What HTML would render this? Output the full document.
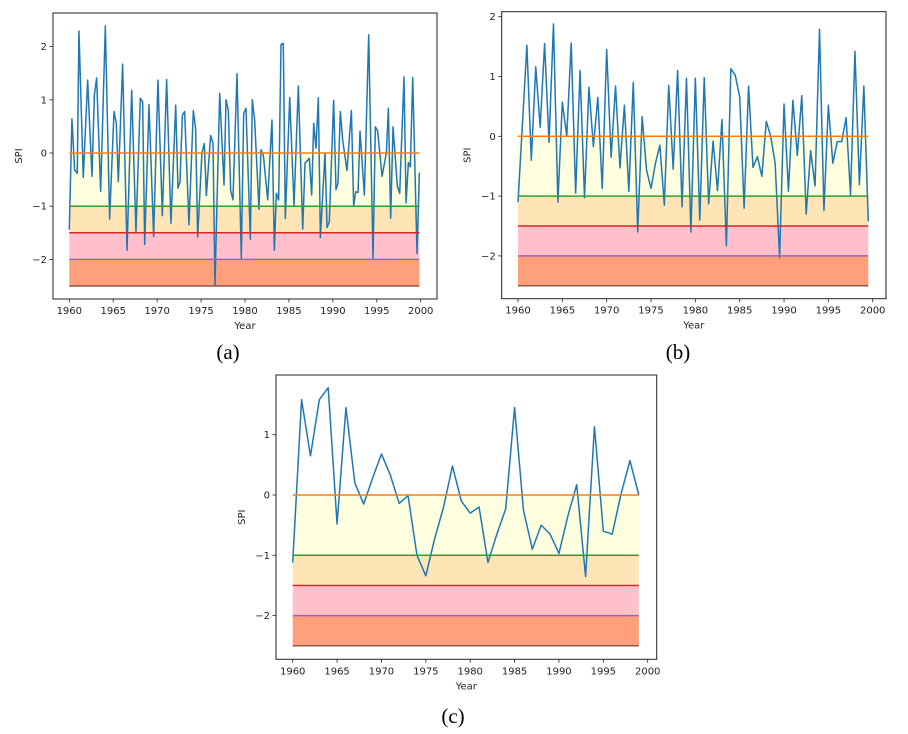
<!DOCTYPE html>
<html><head><meta charset="utf-8">
<style>
body{margin:0;background:#fff;}
svg{display:block;font-family:"DejaVu Sans","Liberation Sans",sans-serif;}
.cap{font-family:"Liberation Serif",serif;font-size:21px;}
</style></head>
<body>
<svg id="fig" width="908" height="734" viewBox="0 0 908 734" xmlns="http://www.w3.org/2000/svg">
<text class="cap" x="228" y="359" text-anchor="middle">(a)</text>
<text class="cap" x="678" y="359" text-anchor="middle">(b)</text>
<text class="cap" x="453" y="723" text-anchor="middle">(c)</text>
</svg>
<script>
// Panel (a) data
const aYears = [1960,1960.30,1960.61,1960.91,1961.10,1961.59,1962.09,1962.58,1962.85,1963.11,1963.57,1964.10,1964.59,1965.09,1965.35,1965.58,1966.07,1966.57,1967.10,1967.59,1968.08,1968.35,1968.58,1969.07,1969.60,1970.09,1970.59,1971.08,1971.57,1972.11,1972.37,1972.60,1972.87,1973.13,1973.62,1974.12,1974.38,1974.61,1975.10,1975.37,1975.60,1976.09,1976.36,1976.58,1977.12,1977.61,1977.84,1978.10,1978.37,1978.63,1979.09,1979.58,1979.85,1980.11,1980.61,1980.83,1981.10,1981.59,1981.82,1982.09,1982.58,1983.07,1983.34,1983.57,1983.83,1984.10,1984.36,1984.59,1985.09,1985.58,1986.07,1986.57,1986.83,1987.32,1987.59,1987.82,1988.08,1988.35,1988.58,1989.11,1989.34,1989.60,1990.09,1990.36,1990.59,1990.85,1991.12,1991.61,1992.11,1992.37,1992.60,1992.87,1993.09,1993.59,1994.08,1994.57,1994.84,1995.10,1995.60,1996.09,1996.32,1996.58,1996.85,1997.34,1997.61,1998.10,1998.33,1998.60,1998.82,1999.09,1999.58,1999.85];
const aValues = [-1.44,0.64,-0.32,-0.38,2.29,-0.46,1.37,-0.44,1.09,1.41,-0.72,2.39,-1.24,0.78,0.56,-0.54,1.67,-1.83,1.18,-1.48,1.03,0.96,-1.72,0.91,-1.57,1.37,-1.18,1.38,-1.32,0.90,-0.66,-0.54,0.71,0.78,-1.35,0.80,0.46,-1.58,0.00,0.18,-0.80,0.33,0.18,-2.48,1.12,-0.60,1.00,0.80,-0.71,-0.88,1.49,-1.98,0.74,0.84,-1.62,1.00,0.62,-1.06,0.06,-0.04,-0.88,0.62,-1.83,-0.76,-0.88,2.04,2.06,-1.23,1.04,-0.99,1.26,-1.43,-0.19,-0.10,-0.79,0.56,0.09,1.04,-1.59,0.00,-1.40,-1.29,0.99,-0.69,-0.56,0.78,0.24,-0.33,0.80,-1.00,-0.73,-0.74,0.41,-0.79,2.22,-1.98,0.49,0.42,-0.44,0.00,0.84,-1.23,0.49,-0.62,-0.76,1.43,-0.94,-0.18,-0.26,1.42,-1.89,-0.37];
// Panel (b) data (semi-annual)
const bStart = 1960, bStep = 0.5;
const bValues = [-1.10,0.20,1.52,-0.40,1.16,0.15,1.55,-0.10,1.88,-1.10,0.57,0.00,1.56,-0.95,1.10,-1.03,0.82,-0.17,0.65,-0.87,1.45,-0.35,0.84,-0.53,0.52,-0.92,0.90,-1.60,0.33,-0.57,-0.87,-0.45,-0.15,-1.15,0.85,-0.55,1.10,-1.18,0.97,-1.60,0.97,-1.40,0.98,-1.13,-0.08,-0.91,0.28,-1.83,1.13,1.02,0.66,-1.20,0.84,-0.52,-0.34,-0.67,0.25,0.00,-0.45,-2.03,0.54,-0.92,0.60,-0.32,0.68,-1.30,-0.24,-0.83,1.79,-1.24,0.52,-0.45,-0.09,-0.09,0.31,-0.98,1.42,-0.81,0.84,-1.42];
// Panel (c) data (annual)
const cStart = 1960, cStep = 1;
const cValues = [-1.12,1.58,0.65,1.58,1.78,-0.48,1.45,0.20,-0.15,0.28,0.68,0.33,-0.14,-0.01,-1.00,-1.34,-0.72,-0.20,0.48,-0.10,-0.30,-0.20,-1.12,-0.65,-0.23,1.45,-0.25,-0.90,-0.50,-0.65,-0.97,-0.35,0.17,-1.35,1.13,-0.60,-0.65,0.02,0.57,0.00];
const xTicks = [1960,1965,1970,1975,1980,1985,1990,1995,2000];
const yTicksA = [2,1,0,-1,-2];
const yTicksB = [2,1,0,-1,-2];
const yTicksC = [1,0,-1,-2];
const levels = [0,-1,-1.5,-2,-2.5];
const levelColors = ["#ff7f0e","#2ca02c","#d62728","#9467bd","#8c564b"];
const bandColors = ["#ffffe0","#ffe4b5","#ffc0cb","#ffa07a"];

const NS = "http://www.w3.org/2000/svg";
const fig = document.getElementById('fig');
function mk(tag, attrs, parent){const e=document.createElementNS(NS,tag);for(const k in attrs)e.setAttribute(k,attrs[k]);(parent||fig).appendChild(e);return e;}

function panel(id, g, xs, ys, yTicks){
  const grp = mk('g',{});
  
  
  const X = v => g.x1960 + (v-1960)*(g.x2000-g.x1960)/40;
  const Y = v => g.y0 - v*g.unit;
  const xmin = X(xs[0]), xmax = X(xs[xs.length-1]);
  for(let i=0;i<bandColors.length;i++){
    const r = mk('rect',{x:xmin,y:Y(levels[i]),width:xmax-xmin,height:Y(levels[i+1])-Y(levels[i]),fill:bandColors[i]},grp);
    
    
  }
  let d='';
  for(let i=0;i<xs.length;i++) d += (i?'L':'M')+X(xs[i]).toFixed(2)+' '+Y(ys[i]).toFixed(2);
  const p = mk('path',{d:d,fill:'none',stroke:'#1f77b4','stroke-width':1.5,'stroke-linejoin':'round'},grp);
  
  
  for(let i=0;i<levels.length;i++){
    const l = mk('line',{x1:xmin,x2:xmax,y1:Y(levels[i]),y2:Y(levels[i]),stroke:levelColors[i],'stroke-width':1.5},grp);
    
    
  }
  const fr = mk('rect',{x:g.left,y:g.top,width:g.right-g.left,height:g.bottom-g.top,fill:'none',stroke:'#222','stroke-width':1},grp);
  
  
  xTicks.forEach(t=>{
    const x=X(t);
    mk('line',{x1:x,x2:x,y1:g.bottom,y2:g.bottom+3.5,stroke:'#222','stroke-width':0.8},grp);
    const tx = mk('text',{x:x,y:g.bottom+15,'text-anchor':'middle','font-size':10,fill:'#222'},grp);
    tx.textContent=t;
    
    
  });
  yTicks.forEach(t=>{
    const y=Y(t);
    mk('line',{x1:g.left-3.5,x2:g.left,y1:y,y2:y,stroke:'#222','stroke-width':0.8},grp);
    const tx = mk('text',{x:g.left-6,y:y+3.5,'text-anchor':'end','font-size':10,fill:'#222'},grp);
    tx.textContent = t<0 ? '\u2212'+(-t) : String(t);
    
    
  });
  const xt = mk('text',{x:(g.left+g.right)/2,y:g.bottom+30,'text-anchor':'middle','font-size':10,fill:'#222'},grp);
  xt.textContent='Year';
  
  
  const cy=(g.top+g.bottom)/2, cx=g.left-31;
  const yt = mk('text',{x:cx,y:cy,'text-anchor':'middle','font-size':10,fill:'#222',transform:'rotate(-90 '+cx+' '+cy+')'},grp);
  yt.textContent='SPI';
  
  
}

panel('a',{left:53,right:437,top:13,bottom:299,x1960:69.3,x2000:420.7,y0:153,unit:53.2},aYears,aValues,yTicksA);
panel('b',{left:501.7,right:886,top:11.7,bottom:298.7,x1960:518,x2000:872.7,y0:136.3,unit:59.8},bValues.map((v,i)=>bStart+i*bStep),bValues,yTicksB);
panel('c',{left:276,right:656.7,top:375,bottom:659.3,x1960:292.7,x2000:647.7,y0:495,unit:60.3},cValues.map((v,i)=>cStart+i*cStep),cValues,yTicksC);
</script>
</body></html>
